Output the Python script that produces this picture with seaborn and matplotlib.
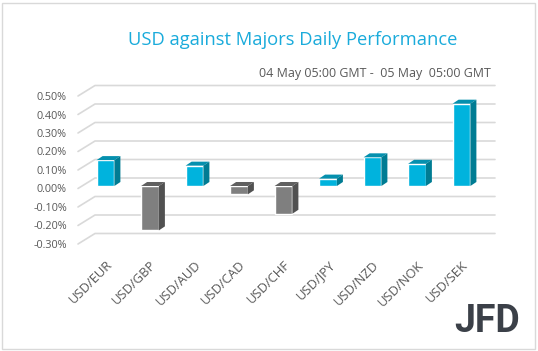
import numpy as np
import pandas as pd
import seaborn as sns
import matplotlib.pyplot as plt
from matplotlib.patches import Polygon, Rectangle
from matplotlib.transforms import Affine2D

# data (daily % change)
pairs = ["USD/EUR", "USD/GBP", "USD/AUD", "USD/CAD", "USD/CHF",
         "USD/JPY", "USD/NZD", "USD/NOK", "USD/SEK"]
change = [0.14, -0.24, 0.11, -0.045, -0.15, 0.04, 0.155, 0.12, 0.445]
yticks = [0.5, 0.4, 0.3, 0.2, 0.1, 0.0, -0.1, -0.2, -0.3]

df = pd.DataFrame({"pair": pairs, "change": change})

# colours: front / top / side for up and down bars
up_cols = ("#00B3DD", "#0590AE", "#007C93")
dn_cols = ("#7F7F7F", "#606060", "#515151")
front = {p: (up_cols[0] if v >= 0 else dn_cols[0]) for p, v in zip(pairs, change)}

sns.set_style("white")
plt.rcParams['font.family'] = ['Open Sans', 'DejaVu Sans']

fig = plt.figure(figsize=(5.38, 3.51), dpi=100)
W, H = 538, 351
ax = fig.add_axes([78 / W, 1 - 250 / H, 400 / W, 170 / H])

sns.barplot(data=df, x="pair", y="change", hue="pair", palette=front,
            legend=False, width=0.4, saturation=1, ax=ax, zorder=3)

ax.set_xlim(-0.618, 8.371)
ax.set_ylim(-0.346, 0.573)
sns.despine(ax=ax, left=True, bottom=True)
ax.set_xlabel("")
ax.set_ylabel("")

inv = ax.transData.inverted()
T = ax.transData.transform

# back wall gridlines with the slanted floor part
gdx, gup, gdn = 17, 8, 2.5
xl, xr = ax.get_xlim()
for v in yticks:
    fx, fy = T((xl, v))
    rx, _ = T((xr, v))
    pts = inv.transform([(fx, fy - gdn), (fx + gdx, fy + gup), (rx + gdx, fy + gup)])
    ax.plot(pts[:, 0], pts[:, 1], color="#D9D9D9", lw=1.2, zorder=1, clip_on=False)

# pseudo 3d faces
ddx, ddy = 6, 4
for patch in ax.patches[:]:
    x0, y0 = patch.get_x(), patch.get_y()
    w, h = patch.get_width(), patch.get_height()
    cols = up_cols if h >= 0 else dn_cols
    X0, Yb = T((x0, min(y0, y0 + h)))
    X1, Yt = T((x0 + w, max(y0, y0 + h)))
    top = [(X0, Yt), (X1, Yt), (X1 + ddx, Yt + ddy), (X0 + ddx, Yt + ddy)]
    side = [(X1, Yb), (X1, Yt), (X1 + ddx, Yt + ddy), (X1 + ddx, Yb + ddy)]
    ax.add_patch(Polygon(inv.transform(top), closed=True, facecolor=cols[1],
                         edgecolor="none", zorder=4, clip_on=False))
    ax.add_patch(Polygon(inv.transform(side), closed=True, facecolor=cols[2],
                         edgecolor="none", zorder=4, clip_on=False))

ax.set_yticks(yticks)
ax.set_yticklabels([f"{v:.2f}%" for v in yticks])
ax.tick_params(axis="y", length=0, pad=8, labelsize=7.8, labelcolor="#595959")
ax.tick_params(axis="x", length=0, pad=6, labelsize=9.4, labelcolor="#595959")
for lab in ax.get_yticklabels():
    lab.set_transform(lab.get_transform() + Affine2D().translate(0, -2.5))
for lab in ax.get_xticklabels():
    lab.set_rotation(45)
    lab.set_ha("right")
    lab.set_va("top")
    lab.set_rotation_mode("anchor")

fig.text(293 / W, 1 - 40 / H, "USD against Majors Daily Performance",
         ha="center", va="center", fontsize=13.2, color="#1AABDB")
fig.text(491 / W, 1 - 73 / H, "04 May 05:00 GMT -  05 May  05:00 GMT",
         ha="right", va="center", fontsize=9, color="#595959")
fig.text(487 / W, 1 - 321 / H, "JFD", ha="center", va="center",
         fontsize=27, fontweight="bold", color="#3B4048", family="Roboto")

fig.add_artist(Rectangle((2 / W, 2 / H), 533 / W, 346 / H, transform=fig.transFigure,
                         fill=False, edgecolor="#D9D9D9", lw=1))

fig.savefig("out.png", dpi=100)
